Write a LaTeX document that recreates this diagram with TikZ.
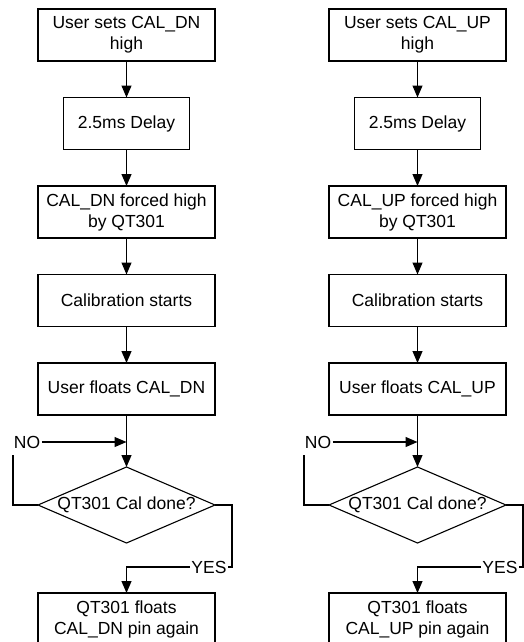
\documentclass[tikz,border=0pt]{standalone}
\usepackage{fontspec}
\setmainfont{Liberation Sans}
\usepackage{tikz}
\usetikzlibrary{arrows.meta,calc,positioning,shapes.geometric}
\newdimen\hdim
\newdimen\wdim
\hdim=52pt
\wdim=177pt
\tikzstyle{element}=[
  draw=black,
  font={\fontsize{17.5}{21}\selectfont},
  inner sep=0pt,
  minimum height=\hdim,
  minimum width=\wdim,
  outer sep=0pt,
  rectangle,
  align=center,
  line width=1.1pt,
]
\tikzstyle{decision}=[
  draw=black,
  font={\fontsize{17.5}{21}\selectfont},
  diamond,
  aspect=2.33,
  inner sep=0pt,
  minimum height=76pt,
  minimum width=\wdim,
  outer sep=0pt,
  line width=1.1pt,
]
\tikzstyle{answer}=[
  font={\fontsize{17.5}{21}\selectfont},
  inner sep=1.5pt,
]
\tikzstyle{arrow}=[
  draw=black,
  line width=1.1pt,
]
\tikzset{
  node distance=88.5pt,
  >={Triangle[width=10pt,length=12pt]},
}
\begin{document}
\begin{tikzpicture}[x=1pt,y=-1pt]
    \useasboundingbox (0,0) rectangle (523,642);
    % CAL_DN column
    \node (dnset) [element] at (126.5,35) {User sets CAL\_DN\\high};
    \node (dndelay) [element, minimum width=126pt, below of=dnset] {2.5ms Delay};
    \node (dnforced) [element, below of=dndelay] {CAL\_DN forced high\\by QT301};
    \node (dnstart) [element, below of=dnforced] {Calibration starts};
    \node (dnfloat) [element, below of=dnstart] {User floats CAL\_DN};
    \node (dncheck) [decision, node distance=116pt, below of=dnfloat] {QT301 Cal done?};
    \node (dnagain) [element, node distance=114pt, below of=dncheck] {QT301 floats\\CAL\_DN pin again};
    \node (dnno) [answer] at (27,442) {NO};
    \node (dnyes) [answer] at (209,567) {YES};
    \coordinate (dnloop) at (13,455);
    \coordinate (dnturn) at (232,567);
    \draw [->, arrow] (dnset) -- (dndelay);
    \draw [->, arrow] (dndelay) -- (dnforced);
    \draw [->, arrow] (dnforced) -- (dnstart);
    \draw [->, arrow] (dnstart) -- (dnfloat);
    \draw [->, arrow] (dnfloat) -- (dncheck);
    \draw [->, arrow] (dnno) -- (dnno -| dncheck.north);
    \draw [arrow] (dncheck.west) -| (dnloop);
    \draw [arrow] (dncheck.east) -| (dnturn) -- (dnyes);
    \draw [->, arrow] (dnyes) -| (dnagain);
    % CAL_UP column
    \node (upset) [element] at (417.5,35) {User sets CAL\_UP\\high};
    \node (updelay) [element, minimum width=126pt, below of=upset] {2.5ms Delay};
    \node (upforced) [element, below of=updelay] {CAL\_UP forced high\\by QT301};
    \node (upstart) [element, below of=upforced] {Calibration starts};
    \node (upfloat) [element, below of=upstart] {User floats CAL\_UP};
    \node (upcheck) [decision, node distance=116pt, below of=upfloat] {QT301 Cal done?};
    \node (upagain) [element, node distance=114pt, below of=upcheck] {QT301 floats\\CAL\_UP pin again};
    \node (upno) [answer] at (318,442) {NO};
    \node (upyes) [answer] at (500,567) {YES};
    \coordinate (uploop) at (304,455);
    \coordinate (upturn) at (523,567);
    \draw [->, arrow] (upset) -- (updelay);
    \draw [->, arrow] (updelay) -- (upforced);
    \draw [->, arrow] (upforced) -- (upstart);
    \draw [->, arrow] (upstart) -- (upfloat);
    \draw [->, arrow] (upfloat) -- (upcheck);
    \draw [->, arrow] (upno) -- (upno -| upcheck.north);
    \draw [arrow] (upcheck.west) -| (uploop);
    \draw [arrow] (upcheck.east) -| (upturn) -- (upyes);
    \draw [->, arrow] (upyes) -| (upagain);
  \end{tikzpicture}
\end{document}
